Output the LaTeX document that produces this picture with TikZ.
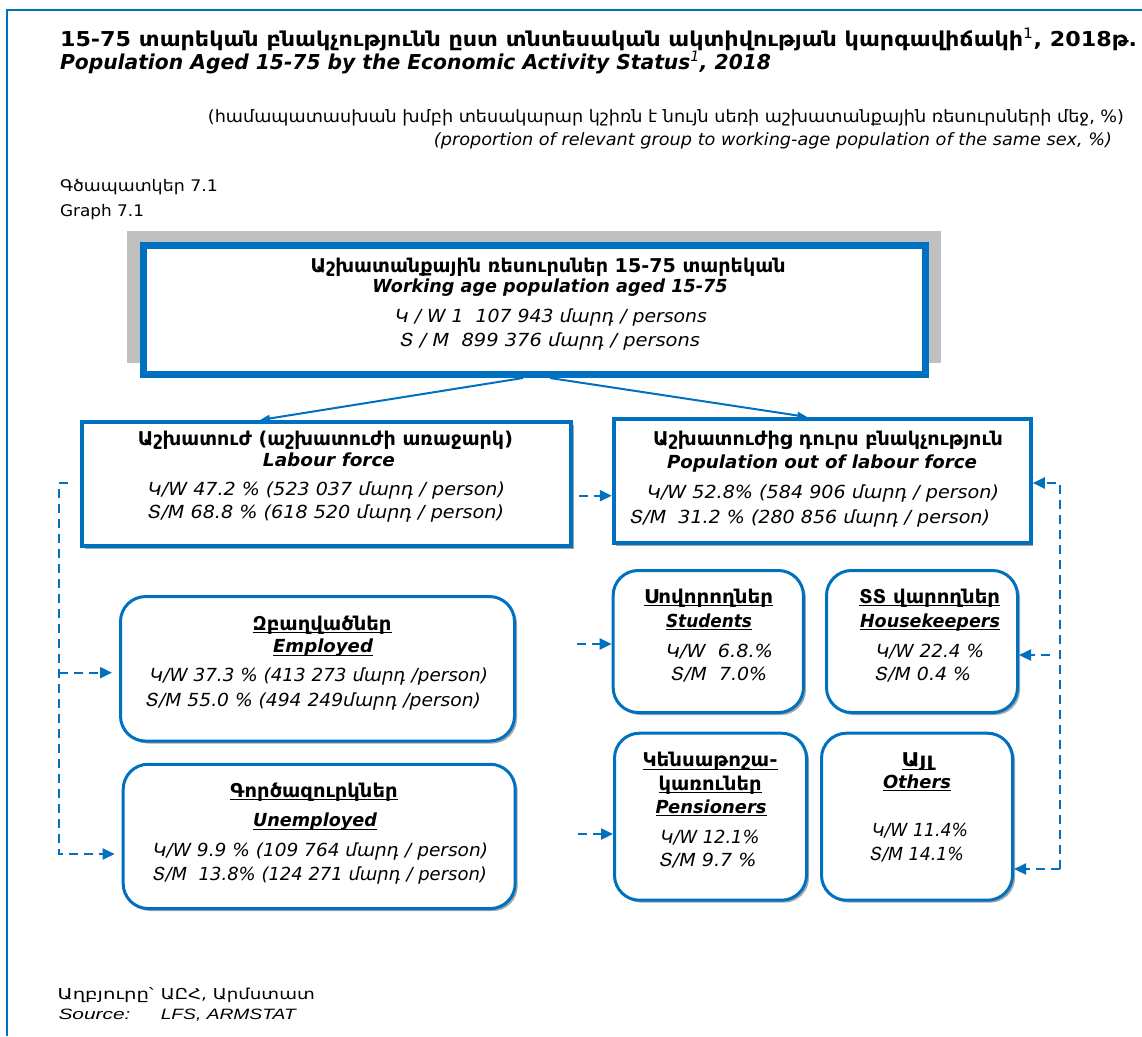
\documentclass[tikz,border=0pt]{standalone}
\usepackage{fontspec}
\setmainfont{DejaVu Sans}
\newfontfamily\liber{Liberation Sans}
\usepackage{graphicx}
\usetikzlibrary{arrows.meta,shadows,calc}
\definecolor{bl}{RGB}{0,112,192}
\definecolor{gr}{RGB}{192,192,192}
\newcommand\fitw[2]{\resizebox{#1pt}{\height}{#2}}
\newcommand\myul[1]{\setbox0\hbox{#1}\rlap{\rule[-3pt]{\wd0}{1.2pt}}\box0}
\newcommand\ttlfont{\fontsize{20.5}{24}\selectfont\bfseries}
\newcommand\subfont{\fontsize{17}{20}\selectfont}
\newcommand\grfont{\fontsize{16}{20}\selectfont}
\newcommand\footfont{\fontsize{15}{18}\selectfont}
\newcommand\armhead{\fontsize{19}{22}\selectfont\bfseries}
\newcommand\enghead{\fontsize{18}{22}\selectfont\bfseries\itshape}
\newcommand\datafont{\fontsize{18}{22}\selectfont\itshape}
\begin{document}
\begin{tikzpicture}[x=1pt,y=-1pt,
  txt/.style={inner sep=0pt,outer sep=0pt,anchor=base,text=black},
  sqbox/.style={draw=bl,fill=white,line width=4pt,inner sep=0pt,
     drop shadow={shadow xshift=2.5pt,shadow yshift=-2.5pt,fill=black!35,opacity=1}},
  rbox/.style={draw=bl,fill=white,line width=3pt,inner sep=0pt,rounded corners=25pt,
     drop shadow={shadow xshift=2.5pt,shadow yshift=-2.5pt,fill=black!35,opacity=1}},
  sol/.style={draw=bl,line width=2pt,-{Triangle[length=10pt,width=7pt]}},
  dsh/.style={draw=bl,line width=2.2pt,dash pattern=on 9pt off 6pt},
  arr/.style={-{Triangle[length=12pt,width=11pt]}}
]
\useasboundingbox (0,0) rectangle (1142,1036);
\fill[white] (0,0) rectangle (1142,1036);
% frame
\draw[bl,line width=2pt] (1142,10) -- (7,10) -- (7,1036);

% header
\node[txt,anchor=base west,font=\ttlfont] (h1) at (60,46.2) {\fitw{1077}{15-75 տարեկան բնակչությունն ըստ տնտեսական ակտիվության կարգավիճակի\textsuperscript{\mdseries 1}, 2018թ.}};
\node[txt,anchor=base west,font=\ttlfont\itshape] (h2) at (60,69) {\fitw{711}{Population Aged 15-75 by the Economic Activity Status\textsuperscript{\mdseries 1}, 2018}};
\node[txt,anchor=base east,font=\subfont] (h3) at (1124,122) {\fitw{916}{(համապատասխան խմբի տեսակարար կշիռն է նույն սեռի աշխատանքային ռեսուրսների մեջ, \%)}};
\node[txt,anchor=base east,font=\subfont\itshape] (h4) at (1112,145) {\fitw{678}{(proportion of relevant group to working-age population of the same sex, \%)}};
\node[txt,anchor=base west,font=\grfont] (h5) at (60,191.7) {\fitw{158}{Գծապատկեր 7.1}};
\node[txt,anchor=base west,font=\grfont] (h6) at (60,216.7) {\fitw{84}{Graph 7.1}};

% top box
\fill[gr] (127,231) rectangle (941,363);
\node[draw=bl,fill=white,line width=7pt,inner sep=0pt,minimum width=782pt,minimum height=129pt] (top) at (534.5,310) {};
\node[txt,font=\armhead] (top1) at (548,272) {\fitw{475}{Աշխատանքային ռեսուրսներ 15-75 տարեկան}};
\node[txt,font=\enghead] (top2) at (550,292) {\fitw{355}{Working age population aged 15-75}};
\node[txt,font=\datafont] (top3) at (551,322) {\fitw{312}{Կ / W 1~~107 943 մարդ / persons}};
\node[txt,font=\datafont] (top4) at (550,346) {\fitw{300}{Տ / M~~899 376 մարդ / persons}};

% labour force
\node[sqbox,minimum width=489pt,minimum height=124pt] (lf) at (326.5,484) {};
\node[txt,font=\armhead] (lf1) at (325.5,445) {\fitw{375}{Աշխատուժ (աշխատուժի առաջարկ)}};
\node[txt,font=\enghead] (lf2) at (329,466) {\fitw{132}{Labour force}};
\node[txt,font=\datafont] (lf3) at (326.5,495) {\fitw{357}{Կ/W 47.2 \% (523 037 մարդ / person)}};
\node[txt,font=\datafont] (lf4) at (326,518.3) {\fitw{356}{Տ/M 68.8 \% (618 520 մարդ / person)}};

% out of labour force
\node[sqbox,minimum width=417pt,minimum height=124pt] (po) at (822.3,481) {};
\node[txt,font=\armhead] (po1) at (828,445) {\fitw{350}{Աշխատուժից դուրս բնակչություն}};
\node[txt,font=\enghead] (po2) at (822,468) {\fitw{310}{Population out of labour force}};
\node[txt,font=\datafont] (po3) at (823,498) {\fitw{352}{Կ/W 52.8\% (584 906 մարդ / person)}};
\node[txt,font=\datafont] (po4) at (810,523) {\fitw{360}{Տ/M~~31.2 \% (280 856 մարդ / person)}};

% employed
\node[rbox,minimum width=394pt,minimum height=144.5pt] (em) at (317.5,668.8) {};
\node[txt,font=\armhead] (em1) at (322,630) {\fitw{139}{\myul{Զբաղվածներ}}};
\node[txt,font=\enghead] (em2) at (323,652.7) {\fitw{100}{\myul{Employed}}};
\node[txt,font=\datafont] (em3) at (319,681.7) {\fitw{338}{Կ/W 37.3 \% (413 273 մարդ /person)}};
\node[txt,font=\datafont] (em4) at (313.5,706.7) {\fitw{335}{Տ/M 55.0 \% (494 249մարդ /person)}};

% unemployed
\node[rbox,minimum width=392pt,minimum height=144.3pt] (un) at (319.2,836.4) {};
\node[txt,font=\armhead] (un1) at (314,797) {\fitw{167}{\myul{Գործազուրկներ}}};
\node[txt,font=\enghead] (un2) at (315,826.7) {\fitw{124}{\myul{Unemployed}}};
\node[txt,font=\datafont] (un3) at (320.5,856) {\fitw{335}{Կ/W 9.9 \% (109 764 մարդ / person)}};
\node[txt,font=\datafont] (un4) at (320,880) {\fitw{334}{Տ/M~~13.8\% (124 271 մարդ / person)}};

% students
\node[rbox,minimum width=190.3pt,minimum height=142pt] (st) at (708.3,641.5) {};
\node[txt,font=\armhead] (st1) at (708.5,603) {\fitw{129}{\myul{Սովորողներ}}};
\node[txt,font=\enghead] (st2) at (709,627) {\fitw{86}{\myul{Students}}};
\node[txt,font=\datafont] (st3) at (719.5,657) {\fitw{107}{Կ/W~~6.8.\%}};
\node[txt,font=\datafont] (st4) at (719,680) {\fitw{96}{Տ/M~~7.0\%}};

% housekeepers
\node[rbox,minimum width=191pt,minimum height=142pt] (hk) at (922,641.5) {};
\node[txt,font=\armhead] (hk1) at (929.5,603) {\fitw{141}{\myul{ՏՏ վարողներ}}};
\node[txt,font=\enghead] (hk2) at (930,627) {\fitw{140}{\myul{Housekeepers}}};
\node[txt,font=\datafont] (hk3) at (930,657) {\fitw{108}{Կ/W 22.4 \%}};
\node[txt,font=\datafont] (hk4) at (923,680) {\fitw{96}{Տ/M 0.4 \%}};

% pensioners
\node[rbox,minimum width=192pt,minimum height=167pt] (pn) at (710.5,816.7) {};
\node[txt,font=\armhead] (pn1) at (710,766.7) {\fitw{135}{\myul{Կենսաթոշա-}}};
\node[txt,font=\armhead] (pn2) at (710,790) {\fitw{103}{\myul{կառուներ}}};
\node[txt,font=\enghead] (pn3) at (711,813) {\fitw{111}{\myul{Pensioners}}};
\node[txt,font=\datafont] (pn4) at (710,843) {\fitw{99}{Կ/W 12.1\%}};
\node[txt,font=\datafont] (pn5) at (708,866.7) {\fitw{97}{Տ/M 9.7 \%}};

% others
\node[rbox,minimum width=191pt,minimum height=167pt] (ot) at (917,816.7) {};
\node[txt,font=\armhead] (ot1) at (917.5,766.7) {\fitw{32}{\myul{Այլ}}};
\node[txt,font=\enghead] (ot2) at (917,788) {\fitw{68}{\myul{Others}}};
\node[txt,font=\datafont] (ot3) at (920,836.7) {\fitw{96}{Կ/W 11.4\%}};
\node[txt,font=\datafont] (ot4) at (917,860) {\fitw{94}{Տ/M 14.1\%}};

% solid connectors
\draw[sol] ([xshift=-11.5pt]top.south) -- ([xshift=-66.5pt]lf.north);
\draw[sol] ([xshift=15.5pt]top.south) -- ([xshift=-15pt]po.north);

% dashed connectors
\coordinate (ya) at (0,495.7);
\draw[dsh,arr,dash phase=9pt] (lf.east |- ya) -- (po.west |- ya);
\coordinate (sa) at (577,644);
\draw[dsh,arr] (sa) -- (sa -| st.west);
\coordinate (pa) at (578,834);
\draw[dsh,arr] (pa) -- (pa -| pn.west);

\coordinate (lt0) at (68,483);
\coordinate (lt) at (59,483);
\coordinate (lm) at (59,672.7);
\coordinate (lb) at (59,854);
\draw[dsh,arr,shorten >=7pt] (lt0) -- (lt) -- (lb) -- (lb -| un.west);
\draw[dsh,arr,shorten >=7pt] (lm) -- (lm -| em.west);

\coordinate (rt) at (1060,483);
\coordinate (rb) at (1060,869);
\coordinate (rm) at (1050,655);
\draw[dsh,arr] (rb) -- (rt) -- (rt -| po.east);
\draw[dsh,arr] (rb) -- (rb -| ot.east);
\draw[dsh,arr] (rm) -- (rm -| hk.east);

% footer
\node[txt,anchor=base west,font=\footfont] (f1) at (57.7,999) {\fitw{96}{Աղբյուրը՝}};
\node[txt,anchor=base west,font=\footfont] (f2) at (160.8,999) {\fitw{154}{ԱԸՀ, Արմստատ}};
\node[txt,anchor=base west,font=\footfont\liber\itshape] (f3) at (58.5,1019) {\fitw{72}{Source:}};
\node[txt,anchor=base west,font=\footfont\liber\itshape] (f4) at (160.8,1019) {\fitw{135}{LFS, ARMSTAT}};
\end{tikzpicture}
\end{document}
